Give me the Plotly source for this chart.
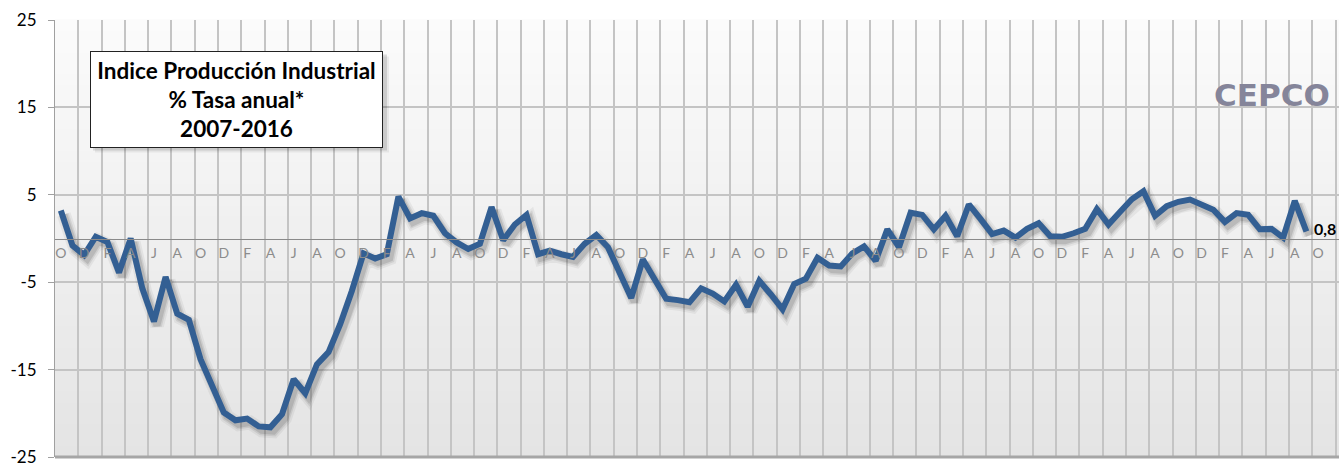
import plotly.graph_objects as go
import pandas as pd

# ---------------- data ----------------
start_month = "2007-10"
values = [
    3.2, -0.8, -1.9,                                                   # 2007 O-D
    0.2, -0.4, -3.9, 0.0, -5.7, -9.5, -4.4, -8.6, -9.3, -13.8, -16.9, -19.9,   # 2008
    -20.8, -20.6, -21.5, -21.6, -20.1, -16.1, -17.7, -14.4, -13.0, -9.8, -6.0, -1.7,  # 2009
    -2.3, -1.8, 4.8, 2.3, 2.9, 2.6, 0.6, -0.45, -1.2, -0.6, 3.6, -0.2,  # 2010
    1.6, 2.7, -1.8, -1.4, -1.8, -2.1, -0.6, 0.4, -1.0, -3.85, -6.8, -2.4,  # 2011
    -4.7, -6.9, -7.05, -7.3, -5.7, -6.3, -7.2, -5.3, -7.8, -4.85, -6.4, -8.1,  # 2012
    -5.2, -4.6, -2.2, -3.1, -3.2, -1.7, -0.9, -2.55, 1.05, -1.0, 2.95, 2.7,  # 2013
    1.05, 2.6, 0.25, 3.9, 2.25, 0.5, 0.9, 0.1, 1.1, 1.75, 0.25, 0.2,  # 2014
    0.6, 1.1, 3.35, 1.6, 3.05, 4.5, 5.4, 2.6, 3.7, 4.2, 4.45, 3.9,  # 2015
    3.3, 1.9, 2.9, 2.7, 1.05, 1.1, 0.1, 4.3, 0.8,                     # 2016 E-S
]
axis_month_count = 111          # Oct 2007 .. Dec 2016 shown on the axis
month_initials = ["E", "F", "M", "A", "M", "J", "J", "A", "S", "O", "N", "D"]
y_ticks = [-25, -15, -5, 5, 15, 25]
y_ticktext = ["-25", "-15", "-5", "5", "15", "25"]
title_lines = ["Indice Producción Industrial", "% Tasa anual*", "2007-2016"]
last_label = "0,8"
logo_text = "CEPCO"

# ---------------- derived ----------------
months = pd.date_range(start_month, periods=len(values), freq="MS")
axis_months = pd.date_range(start_month, periods=axis_month_count, freq="MS")
x_idx = list(range(len(values)))
tick_pos = list(range(0, axis_month_count, 2))
tick_txt = [month_initials[axis_months[i].month - 1] for i in tick_pos]
grid_pos = [p - 0.5 for p in tick_pos] + [tick_pos[-1] + 1.5]

W, H = 1339, 467
ML, MR, MT, MB = 55, 0, 20, 5
plot_w = W - ML - MR
plot_h = H - MT - MB
x_range = [-0.5, 109.8]
y_range = [-25, 25]
px_x = plot_w / (x_range[1] - x_range[0])
px_y = plot_h / (y_range[1] - y_range[0])

LINE_COLOR = "#335f93"
GRID = "#c4c4c4"
FONT = "Lato, Arial, sans-serif"

fig = go.Figure()

# invisible carrier trace so the base axes (ticks, grid) are drawn
fig.add_trace(go.Scatter(x=x_idx, y=values, mode="lines", xaxis="x", yaxis="y",
                         line=dict(color="rgba(0,0,0,0)", width=1),
                         hoverinfo="skip", showlegend=False))
# shadow of the line (same data, drawn on slightly shifted overlay axes)
for w, a in [(14, 0.05), (10, 0.08), (7, 0.11)]:
    fig.add_trace(go.Scatter(x=x_idx, y=values, mode="lines", xaxis="x2", yaxis="y2",
                             line=dict(color=f"rgba(0,0,0,{a})", width=w),
                             hoverinfo="skip", showlegend=False))
# main line
fig.add_trace(go.Scatter(x=x_idx, y=values, mode="lines", xaxis="x3", yaxis="y3",
                         line=dict(color=LINE_COLOR, width=6),
                         customdata=months.strftime("%Y-%m"),
                         hovertemplate="%{customdata}: %{y}<extra></extra>",
                         showlegend=False))

sx = 3 / px_x
sy = 4 / px_y
fig.update_layout(
    width=W, height=H,
    margin=dict(l=ML, r=MR, t=MT, b=MB),
    paper_bgcolor="white",
    plot_bgcolor="#f0f0f0",
    font=dict(family=FONT, color="black"),
    xaxis=dict(range=x_range, anchor="free", position=0.5,
               tickmode="array", tickvals=tick_pos, ticktext=tick_txt,
               tickfont=dict(size=14, color="#8c8c8c"),
               showgrid=False, zeroline=False,
               showline=True, linecolor="#8a8a8a", linewidth=1,
               ticks="", ticklabelstandoff=2, ticklabeloverflow="allow",
               minor=dict(tickmode="array", tickvals=grid_pos, showgrid=True,
                          gridcolor=GRID, gridwidth=2, ticks="")),
    yaxis=dict(range=y_range, anchor="x", tickmode="array", tickvals=y_ticks, ticktext=y_ticktext,
               tickfont=dict(size=17, color="black"),
               showgrid=True, gridcolor=GRID, gridwidth=2,
               zeroline=False, showline=True, linecolor="#a0a0a0", linewidth=1,
               ticks="outside", ticklen=6, tickcolor="#a0a0a0", ticklabelstandoff=8,
               ticklabeloverflow="allow"),
    xaxis2=dict(range=[x_range[0] - sx, x_range[1] - sx], overlaying="x", anchor="y2", visible=False),
    yaxis2=dict(range=[y_range[0] + sy, y_range[1] + sy], overlaying="y", anchor="x2", visible=False),
    xaxis3=dict(range=x_range, overlaying="x", anchor="y3", visible=False),
    yaxis3=dict(range=y_range, overlaying="y", anchor="x3", visible=False),
)

# background gradient of the plot area
N = 40
top_c, bot_c = (251, 251, 251), (228, 228, 228)
shapes = []
for k in range(N):
    t = k / (N - 1)
    c = tuple(round(bot_c[i] + (top_c[i] - bot_c[i]) * t) for i in range(3))
    shapes.append(dict(type="rect", xref="x domain", yref="y domain",
                       x0=0, x1=1, y0=k / N, y1=(k + 1) / N + 0.002,
                       fillcolor=f"rgb{c}", line=dict(width=0), layer="below"))
# thicker bottom border of the plot area
shapes.append(dict(type="line", xref="x domain", yref="y domain", x0=0, x1=1, y0=0, y1=0,
                   line=dict(color="#a6a6a6", width=3), layer="above"))


def px2paper_x(p):
    return (p - ML) / plot_w


def px2paper_y(p):
    return (H - MB - p) / plot_h


# title box shadow
for off, a in [(5, 0.06), (3, 0.12)]:
    shapes.append(dict(type="rect", xref="paper", yref="paper",
                       x0=px2paper_x(90 + off), x1=px2paper_x(384 + off),
                       y0=px2paper_y(149 + off), y1=px2paper_y(52 + off),
                       fillcolor=f"rgba(0,0,0,{a})", line=dict(width=0), layer="above"))
fig.update_layout(shapes=shapes)

# title box
fig.add_annotation(xref="paper", yref="paper",
                   x=px2paper_x(237), y=px2paper_y(100.5),
                   xanchor="center", yanchor="middle",
                   text="<b>" + "<br>".join(title_lines) + "</b>",
                   showarrow=False, align="center",
                   font=dict(size=22.5, color="black", family=FONT),
                   bgcolor="white", bordercolor="#222222", borderwidth=1,
                   width=291, height=95, borderpad=0)

# last value label
fig.add_annotation(x=x_idx[-1], y=values[-1], xref="x3", yref="y3",
                   text=f"<b>{last_label}</b>", showarrow=False,
                   xanchor="left", yanchor="middle", xshift=6, yshift=3,
                   font=dict(size=16, color="black", family=FONT))

# logo text
fig.add_annotation(xref="paper", yref="paper",
                   x=px2paper_x(1272), y=px2paper_y(96),
                   xanchor="center", yanchor="middle",
                   text=f"<b>{logo_text}</b>", showarrow=False,
                   font=dict(size=31, color="#85859a", family="DejaVu Sans, sans-serif"))

fig.write_html("out.html", config={"displayModeBar": False},
               post_script="document.body.style.margin='0';")
